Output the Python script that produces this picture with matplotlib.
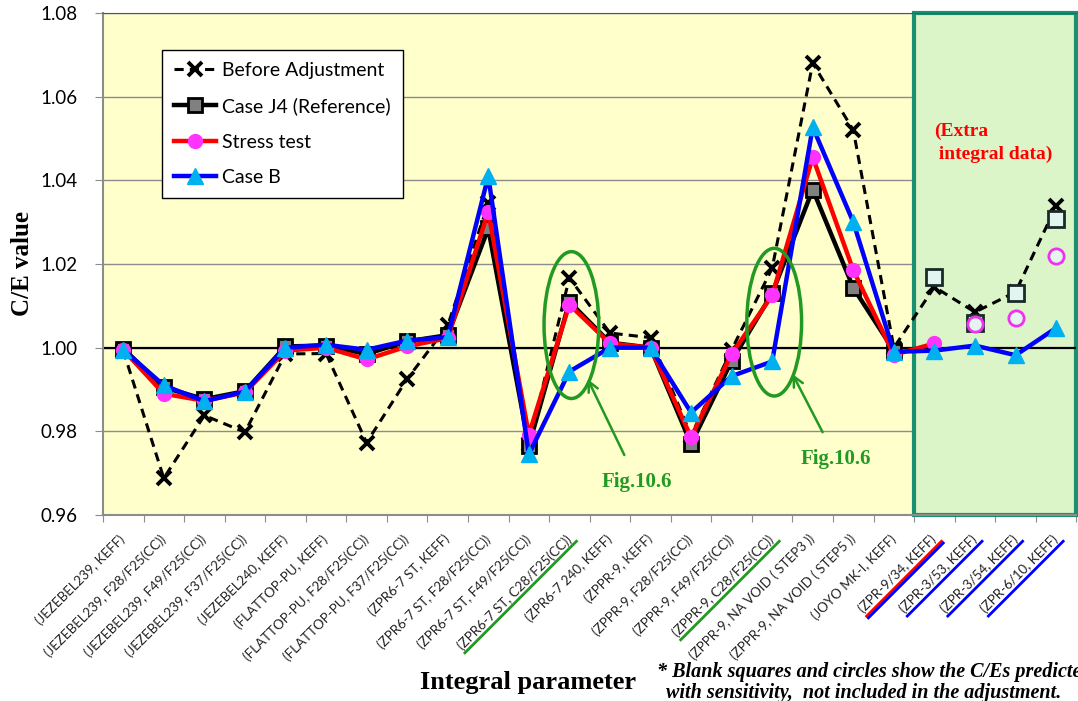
import numpy as np
import matplotlib.pyplot as plt
from matplotlib.patches import Ellipse, Rectangle

categories = [
    "(JEZEBEL239, KEFF)", "(JEZEBEL239, F28/F25(CC))", "(JEZEBEL239, F49/F25(CC))",
    "(JEZEBEL239, F37/F25(CC))", "(JEZEBEL240, KEFF)", "(FLATTOP-PU, KEFF)",
    "(FLATTOP-PU, F28/F25(CC))", "(FLATTOP-PU, F37/F25(CC))", "(ZPR6-7 ST, KEFF)",
    "(ZPR6-7 ST, F28/F25(CC))", "(ZPR6-7 ST, F49/F25(CC))", "(ZPR6-7 ST, C28/F25(CC))",
    "(ZPR6-7 240, KEFF)", "(ZPPR-9, KEFF)", "(ZPPR-9, F28/F25(CC))",
    "(ZPPR-9, F49/F25(CC))", "(ZPPR-9, C28/F25(CC))", "(ZPPR-9, NA VOID ( STEP3 ))",
    "(ZPPR-9, NA VOID ( STEP5 ))", "(JOYO MK-I, KEFF)", "(ZPR-9/34, KEFF)",
    "(ZPR-3/53, KEFF)", "(ZPR-3/54, KEFF)", "(ZPR-6/10, KEFF)",
]

before_adj = [0.9993, 0.9688, 0.9838, 0.9798, 0.9985, 0.9986, 0.9773, 0.9925,
              1.0053, 1.0345, 0.9770, 1.0167, 1.0035, 1.0024, 0.9790, 0.9995,
              1.0190, 1.0680, 1.0520, 1.0000, 1.0145, 1.0085, 1.0133, 1.0338]
case_j4 = [0.9998, 0.9905, 0.9877, 0.9896, 1.0003, 1.0005, 0.9985, 1.0015,
           1.0030, 1.0285, 0.9765, 1.0110, 1.0012, 1.0000, 0.9770, 0.9968,
           1.0130, 1.0378, 1.0143, 0.9993]
case_j4_pred = [1.0170, 1.0060, 1.0130, 1.0308]
stress = [0.9995, 0.9890, 0.9873, 0.9893, 0.9993, 1.0000, 0.9972, 1.0003,
          1.0023, 1.0325, 0.9792, 1.0103, 1.0010, 1.0000, 0.9786, 0.9985,
          1.0125, 1.0455, 1.0185, 0.9983, 1.0010]
stress_pred = [1.0057, 1.0070, 1.0218]
case_b = [0.9995, 0.9910, 0.9872, 0.9895, 1.0000, 1.0007, 0.9995, 1.0017,
          1.0025, 1.0410, 0.9745, 0.9943, 1.0000, 1.0000, 0.9845, 0.9932,
          0.9967, 1.0527, 1.0300, 0.9990, 0.9993, 1.0005, 0.9982, 1.0047]

x = np.arange(len(categories))
n_main = 20

plt.rcParams['font.family'] = ['Lato', 'DejaVu Sans']
fig = plt.figure(figsize=(10.78, 7.01), dpi=100)
ax = fig.add_axes([0.0955, 0.2653, 0.903, 0.7162])
ax.set_facecolor('#ffffcc')

# extra integral data region
ax.add_patch(Rectangle((n_main - 0.5, 0.96), 4, 0.12, facecolor='#dcf5c8',
                       edgecolor='#1a9070', lw=3, zorder=1.5, clip_on=False))

ax.set_ylim(0.96, 1.08)
ax.set_xlim(-0.5, len(categories) - 0.5)
yt = np.arange(0.96, 1.0801, 0.02)
ax.set_yticks(yt)
ax.set_yticklabels([f"{v:.2f}" for v in yt], fontsize=13.5)
ax.yaxis.grid(True, color='#8c8c8c', lw=1)
ax.set_axisbelow(True)
ax.axhline(1.0, color='black', lw=1.6, zorder=2)
ax.tick_params(axis='y', length=6, color='#8c8c8c', pad=12)
ax.set_xticks(np.arange(-0.5, len(categories)))
ax.set_xticklabels([])
ax.tick_params(axis='x', length=5, color='#8c8c8c')
for s in ['left', 'bottom']:
    ax.spines[s].set_color('#8c8c8c')
    ax.spines[s].set_linewidth(1.5)
ax.spines['top'].set_color('#555555')
ax.spines['right'].set_visible(False)

ax.plot(x, before_adj, color='black', ls=(0, (3, 2)), lw=2.2, marker='x', ms=10,
        mew=2.8, label='Before Adjustment', zorder=3)
ax.plot(x[:n_main], case_j4, color='black', lw=3.2, marker='s', ms=10,
        mfc='#808080', mec='black', mew=2, label='Case J4 (Reference)', zorder=4)
ax.plot(x[n_main:], case_j4_pred, ls='none', marker='s', ms=11, mfc='#e3f5ef',
        mec='#1a2a2a', mew=2, zorder=4)
ax.plot(x[:n_main + 1], stress, color='#ff0000', lw=3.2, marker='o', ms=10,
        mfc='#ff33ff', mec='#ff33ff', label='Stress test', zorder=5)
ax.plot(x[n_main + 1:], stress_pred, ls='none', marker='o', ms=11, mfc='#e3f5ef',
        mec='#ee33ee', mew=2, zorder=5)
ax.plot(x, case_b, color='#0000ff', lw=3.2, marker='^', ms=11,
        mfc='#00b0f0', mec='#00b0f0', label='Case B', zorder=6)

leg = ax.legend(loc='upper left', bbox_to_anchor=(0.0606, 0.926), fontsize=14,
                frameon=True, fancybox=False, edgecolor='black', framealpha=1,
                handlelength=2.2, labelspacing=0.95, borderpad=0.6,
                handletextpad=0.3, borderaxespad=0)
leg.get_frame().set_linewidth(1)

ax.set_ylabel('C/E value', family='Liberation Serif', fontweight='bold', fontsize=18)
ax.yaxis.set_label_coords(-0.071, 0.5)

# annotations
green = '#229922'
ax.add_patch(Ellipse((11.05, 1.0054), 1.35, 0.0351, fill=False, ec=green, lw=2.5, zorder=7))
ax.add_patch(Ellipse((16.05, 1.0061), 1.35, 0.0353, fill=False, ec=green, lw=2.5, zorder=7))
ax.annotate('Fig.10.6', xy=(11.45, 0.9925), xytext=(12.67, 0.9680), color=green,
            family='Liberation Serif', fontweight='bold', fontsize=15,
            ha='center', va='center',
            arrowprops=dict(arrowstyle='->', color=green, lw=1.8,
                            shrinkA=11, shrinkB=0, mutation_scale=18), zorder=8)
ax.annotate('Fig.10.6', xy=(16.5, 0.9937), xytext=(17.58, 0.9735), color=green,
            family='Liberation Serif', fontweight='bold', fontsize=15,
            ha='center', va='center',
            arrowprops=dict(arrowstyle='->', color=green, lw=1.8,
                            shrinkA=11, shrinkB=0, mutation_scale=18), zorder=8)
ax.text(20.0, 1.0490, '(Extra\n integral data)', color='#ff0000',
        family='Liberation Serif', fontweight='bold', fontsize=14,
        ha='left', va='center', linespacing=1.4, zorder=8)

# rotated category labels with underlines
fig.canvas.draw()
renderer = fig.canvas.get_renderer()
underline = {11: [green], 16: [green], 20: ['#ff0000', '#0000ff'],
             21: ['#0000ff'], 22: ['#0000ff'], 23: ['#0000ff']}
lab_fs = 9.6
inv = fig.transFigure.inverted()
for i, lab in enumerate(categories):
    anchor = ax.transData.transform((i, 0.96)) + np.array([0, -22])
    pos = inv.transform(anchor)
    fig.text(pos[0], pos[1], lab, rotation=45, rotation_mode='anchor',
             ha='right', va='center', fontsize=lab_fs, color='#222222')
    if i in underline:
        tmp = fig.text(0, 0, lab, fontsize=lab_fs)
        w = tmp.get_window_extent(renderer).width
        tmp.remove()
        d = np.array([np.cos(np.pi / 4), np.sin(np.pi / 4)])
        perp = np.array([np.sin(np.pi / 4), -np.cos(np.pi / 4)])
        for k, c in enumerate(underline[i]):
            off = 8 + 2.5 * k
            f0 = inv.transform(anchor + perp * off + d * 2)
            f1 = inv.transform(anchor - d * w + perp * off)
            fig.add_artist(plt.Line2D([f0[0], f1[0]], [f0[1], f1[1]], color=c,
                                      lw=2, transform=fig.transFigure))

fig.text(0.39, 0.026, 'Integral parameter', family='Liberation Serif',
         fontweight='bold', fontsize=19, ha='left', va='center')
fig.text(0.609, 0.041, '* Blank squares and circles show the C/Es predicted',
         family='Liberation Serif', fontweight='bold', fontstyle='italic',
         fontsize=14.5, ha='left', va='center')
fig.text(0.618, 0.011, 'with sensitivity,  not included in the adjustment.',
         family='Liberation Serif', fontweight='bold', fontstyle='italic',
         fontsize=14.5, ha='left', va='center')

fig.savefig('out.png', dpi=100)
